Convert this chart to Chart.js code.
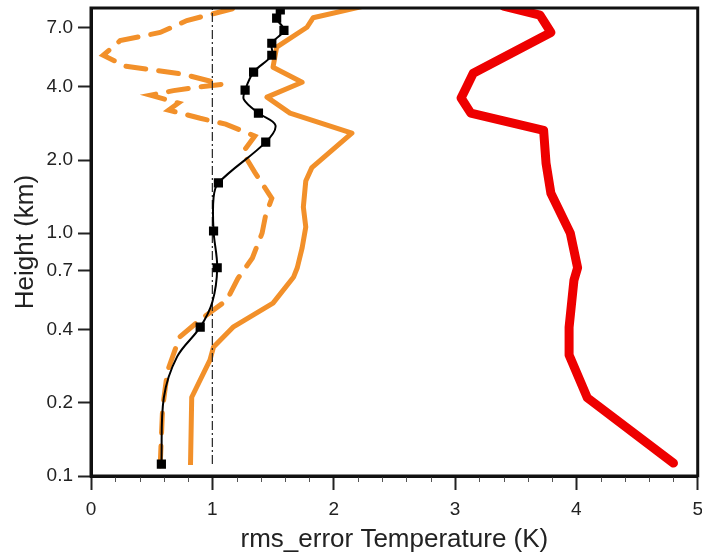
<!DOCTYPE html>
<html>
<head>
<meta charset="utf-8">
<title>rms_error Temperature</title>
<script src="https://cdn.jsdelivr.net/npm/chart.js@4.4.1/dist/chart.umd.min.js"></script>
<style>
  html, body { margin: 0; padding: 0; background: #fff; overflow: hidden; }
  canvas { display: block; }
</style>
</head>
<body>
<canvas id="chart" width="711" height="553"></canvas>
<script>
// tick labels
const heightTicks = [0.1, 0.2, 0.4, 0.7, 1.0, 2.0, 4.0, 7.0]

// red profile (height km / rms K), bottom to top
const redHeight = [0.113, 0.21, 0.315, 0.41, 0.64, 0.72, 1.0, 1.46, 1.94, 2.65, 3.12, 3.6, 3.95, 4.55, 6.7, 7.9, 8.6]
const redRms    = [4.80, 4.09, 3.94, 3.94, 3.98, 4.01, 3.95, 3.79, 3.75, 3.73, 3.13, 3.05, 3.09, 3.15, 3.79, 3.70, 3.40]

// orange solid
const orangeHeight = [0.111, 0.211, 0.30, 0.34, 0.41, 0.515, 0.66, 0.72, 0.87, 1.06, 1.28, 1.64, 1.86, 2.58, 3.12, 3.63, 4.18, 4.82, 5.83, 7.04, 7.7, 8.6]
const orangeRms    = [0.82, 0.83, 0.98, 1.01, 1.17, 1.50, 1.67, 1.70, 1.74, 1.77, 1.75, 1.77, 1.82, 2.15, 1.64, 1.45, 1.74, 1.50, 1.53, 1.78, 1.83, 2.25]

// orange dashed
const dashHeight = [0.11, 0.19, 0.27, 0.373, 0.44, 0.53, 0.65, 0.79, 1.0, 1.19, 1.39, 1.78, 2.15, 2.51, 2.81, 2.97, 3.21, 3.43, 3.70, 3.86, 3.99, 4.10, 4.51, 4.87, 5.4, 6.2, 6.7, 7.5, 8.4, 8.6]
const dashRms    = [0.57, 0.59, 0.63, 0.73, 0.90, 1.12, 1.21, 1.33, 1.41, 1.44, 1.49, 1.35, 1.25, 1.35, 1.11, 0.90, 0.64, 0.72, 0.49, 0.68, 0.88, 1.08, 0.76, 0.28, 0.10, 0.24, 0.57, 0.79, 1.17, 1.25]

// black curve and its square markers
const blackHeight = [0.112, 0.21, 0.31, 0.41, 0.52, 0.72, 1.02, 1.40, 1.61, 2.37, 2.78, 3.12, 3.55, 3.88, 4.6, 5.4, 6.05, 6.84, 7.67, 8.3, 8.6]
const blackRms    = [0.58, 0.60, 0.71, 0.90, 1.00, 1.04, 1.01, 1.01, 1.05, 1.44, 1.52, 1.38, 1.26, 1.27, 1.34, 1.49, 1.49, 1.59, 1.53, 1.56, 1.58]
const markHeight  = [0.112, 0.41, 0.72, 1.02, 1.61, 2.37, 3.12, 3.88, 4.6, 5.4, 6.05, 6.84, 7.67, 8.3]
const markRms     = [0.58, 0.90, 1.04, 1.01, 1.05, 1.44, 1.38, 1.27, 1.34, 1.49, 1.49, 1.59, 1.53, 1.56]

// reference line at 1 K
const refHeight = [0.112, 8.6]
const refRms    = [1, 1]

const pts = (xs, ys) => xs.map((x, i) => ({ x: x, y: ys[i] }))

const orange = '#f2902a'
const font = 'Liberation Sans, Arial, Helvetica, sans-serif'

// frame around the plot + minor x ticks
const framePlugin = {
    id: 'frame',
    afterDraw(chart) {
        const { ctx, chartArea: a, scales } = chart
        ctx.save()
        ctx.strokeStyle = '#555'
        ctx.lineWidth = 1
        for (let i = 1; i < 25; i++) {
            if (i % 5 === 0) continue
            const px = Math.round(scales.x.getPixelForValue(i / 5)) + 0.5
            ctx.beginPath()
            ctx.moveTo(px, a.bottom)
            ctx.lineTo(px, a.bottom + 6)
            ctx.stroke()
        }
        ctx.strokeStyle = '#111'
        ctx.lineWidth = 3
        ctx.strokeRect(a.left, a.top, a.right - a.left, a.bottom - a.top)
        ctx.restore()
    }
}

new Chart(document.getElementById('chart'), {
    type: 'scatter',
    data: {
        datasets: [
            {
                data: pts(markRms, markHeight),
                showLine: false,
                pointStyle: 'rect',
                pointRadius: 6.5,
                backgroundColor: '#000',
                borderColor: '#000',
                borderWidth: 0
            },
            {
                data: pts(blackRms, blackHeight),
                showLine: true,
                borderColor: '#000',
                borderWidth: 2,
                pointRadius: 0,
                tension: 0.35
            },
            {
                data: pts(refRms, refHeight),
                showLine: true,
                borderColor: '#222',
                borderWidth: 1.2,
                borderDash: [9, 3, 2, 3],
                pointRadius: 0
            },
            {
                data: pts(dashRms, dashHeight),
                showLine: true,
                borderColor: orange,
                borderWidth: 5,
                borderDash: [20, 13],
                borderCapStyle: 'round',
                pointRadius: 0
            },
            {
                data: pts(orangeRms, orangeHeight),
                showLine: true,
                borderColor: orange,
                borderWidth: 5,
                borderJoinStyle: 'round',
                pointRadius: 0
            },
            {
                data: pts(redRms, redHeight),
                showLine: true,
                borderColor: '#ee0000',
                borderWidth: 9,
                borderJoinStyle: 'round',
                borderCapStyle: 'round',
                pointRadius: 0
            }
        ]
    },
    options: {
        responsive: false,
        animation: false,
        layout: { padding: { top: 8, left: 0, right: 0, bottom: 0 } },
        plugins: {
            legend: { display: false },
            tooltip: { enabled: false }
        },
        scales: {
            x: {
                type: 'linear',
                min: 0,
                max: 5,
                afterFit: s => { s.height = 77 },
                grid: {
                    drawOnChartArea: false,
                    drawTicks: true,
                    tickLength: 14,
                    tickColor: '#222',
                    tickWidth: 2
                },
                border: { display: true, color: '#111', width: 3 },
                ticks: {
                    stepSize: 1,
                    padding: 8,
                    color: '#222',
                    font: { family: font, size: 19 }
                },
                title: {
                    display: true,
                    text: 'rms_error Temperature (K)',
                    color: '#222',
                    padding: { top: 0, bottom: 0 },
                    font: { family: font, size: 26, lineHeight: 1 }
                }
            },
            y: {
                type: 'logarithmic',
                min: 0.1,
                max: 8.45,
                afterFit: s => {
                    s.width = 91
                    s.paddingTop = 0
                    s.paddingBottom = 0
                },
                afterBuildTicks: s => { s.ticks = heightTicks.map(v => ({ value: v })) },
                grid: {
                    drawOnChartArea: false,
                    drawTicks: true,
                    tickLength: 13,
                    tickColor: '#222',
                    tickWidth: 2
                },
                border: { display: true, color: '#111', width: 3 },
                ticks: {
                    padding: 5,
                    color: '#222',
                    font: { family: font, size: 19 },
                    callback: v => Number(v).toFixed(1)
                },
                title: {
                    display: true,
                    text: 'Height (km)',
                    color: '#222',
                    padding: { top: 13, bottom: 0 },
                    font: { family: font, size: 26, lineHeight: 1 }
                }
            }
        }
    },
    plugins: [framePlugin]
});
</script>
</body>
</html>
